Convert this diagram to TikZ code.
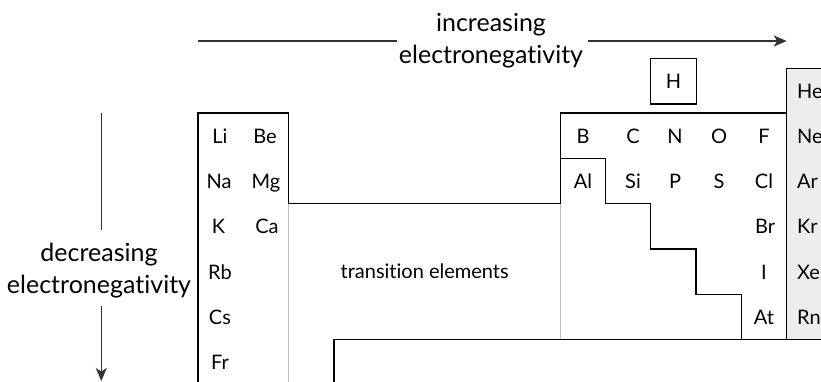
\documentclass[tikz,border=0pt]{standalone}
\usepackage{fontspec}
\setmainfont{Lato}[Ligatures=NoCommon]
\usetikzlibrary{arrows.meta}
\begin{document}
\begin{tikzpicture}[x=1pt,y=-1pt,
  outline/.style={line width=1.2pt,black,line join=miter},
  guide/.style={line width=0.8pt,black!25},
  trend/.style={line width=1.1pt,black!80},
  trendtip/.style={trend,-{Stealth[length=13pt,width=11pt,inset=3.5pt]}},
  elem/.style={font=\fontsize{20}{22}\selectfont,inner sep=0pt,anchor=base},
  noble/.style={elem,anchor=base west},
  caption/.style={font=\fontsize{25}{32}\selectfont,align=center,inner sep=0pt},
]
\useasboundingbox (0,0) rectangle (821,381);
\clip (0,0) rectangle (821,381);

% noble gas column
\fill[black!7] (786.7,68.3) rectangle (830,339.3);

% outline of the main table
\draw[outline] (198,390) -- (198,113) -- (288.3,113) -- (288.3,203.5)
  -- (560.7,203.5) -- (560.7,113) -- (786.7,113);
\draw[outline] (786.7,339.3) -- (786.7,68.3) -- (830,68.3);
% metal / non-metal staircase
\draw[outline] (560.7,158.5) -- (605.7,158.5) -- (605.7,203.7) -- (650.7,203.7)
  -- (650.7,249) -- (696,249) -- (696,294.3) -- (741.3,294.3) -- (741.3,339.3);
% lanthanide / actinide block edge
\draw[outline] (334,390) -- (334,339.3) -- (830,339.3);
% faint block separators
\draw[guide] (288.3,204) -- (288.3,390);
\draw[guide] (560.7,204) -- (560.7,339);

% hydrogen
\node[draw,line width=1.2pt,minimum width=45.6pt,minimum height=45.3pt,
  font=\fontsize{20}{22}\selectfont,inner sep=0pt] (H) at (673.5,81.3) {H};

% s-block
\node[elem] (Li) at (220,143.3) {Li};
\node[elem] (Be) at (265,143.3) {Be};
\node[elem] (Na) at (219,188) {Na};
\node[elem] (Mg) at (266,188) {Mg};
\node[elem] (K) at (218.5,233.5) {K};
\node[elem] (Ca) at (267,233.5) {Ca};
\node[elem] (Rb) at (220,279) {Rb};
\node[elem] (Cs) at (220,324.3) {Cs};
\node[elem] (Fr) at (220,369.6) {Fr};

% p-block
\node[elem] (B) at (583,143.3) {B};
\node[elem] (C) at (633,143.3) {C};
\node[elem] (N) at (675,143.3) {N};
\node[elem] (O) at (719,143.3) {O};
\node[elem] (F) at (764,143.3) {F};
\node[elem] (Al) at (583,188) {Al};
\node[elem] (Si) at (633,188) {Si};
\node[elem] (P) at (675,188) {P};
\node[elem] (S) at (719,188) {S};
\node[elem] (Cl) at (764,188) {Cl};
\node[elem] (Br) at (765,233.5) {Br};
\node[elem] (I) at (764,279) {I};
\node[elem] (At) at (764,324.3) {At};

% noble gases
\node[noble] (He) at (797,98.5) {He};
\node[noble] (Ne) at (797,143.3) {Ne};
\node[noble] (Ar) at (797,188) {Ar};
\node[noble] (Kr) at (797,233.5) {Kr};
\node[noble] (Xe) at (797,279) {Xe};
\node[noble] (Rn) at (797,324.3) {Rn};

\node[elem] (trans) at (424.7,278.5) {transition elements};

% trend captions and arrows
\node[caption] (incr) at (491,41) {increasing\\electronegativity};
\node[caption] (decr) at (99,271) {decreasing\\electronegativity};

\coordinate (hstart) at (198,41);
\coordinate (hgapL) at (397,41);
\coordinate (hgapR) at (588.3,41);
\coordinate (hend) at (786.7,41);
\draw[trend] (hstart) -- (hgapL);
\draw[trendtip] (hgapR) -- (hend);

\coordinate (vstart) at (101.3,112.7);
\coordinate (vgapT) at (101.3,230);
\coordinate (vgapB) at (101.3,305.7);
\coordinate (vend) at (101.3,381);
\draw[trend] (vstart) -- (vgapT);
\draw[trendtip] (vgapB) -- (vend);
\end{tikzpicture}
\end{document}
